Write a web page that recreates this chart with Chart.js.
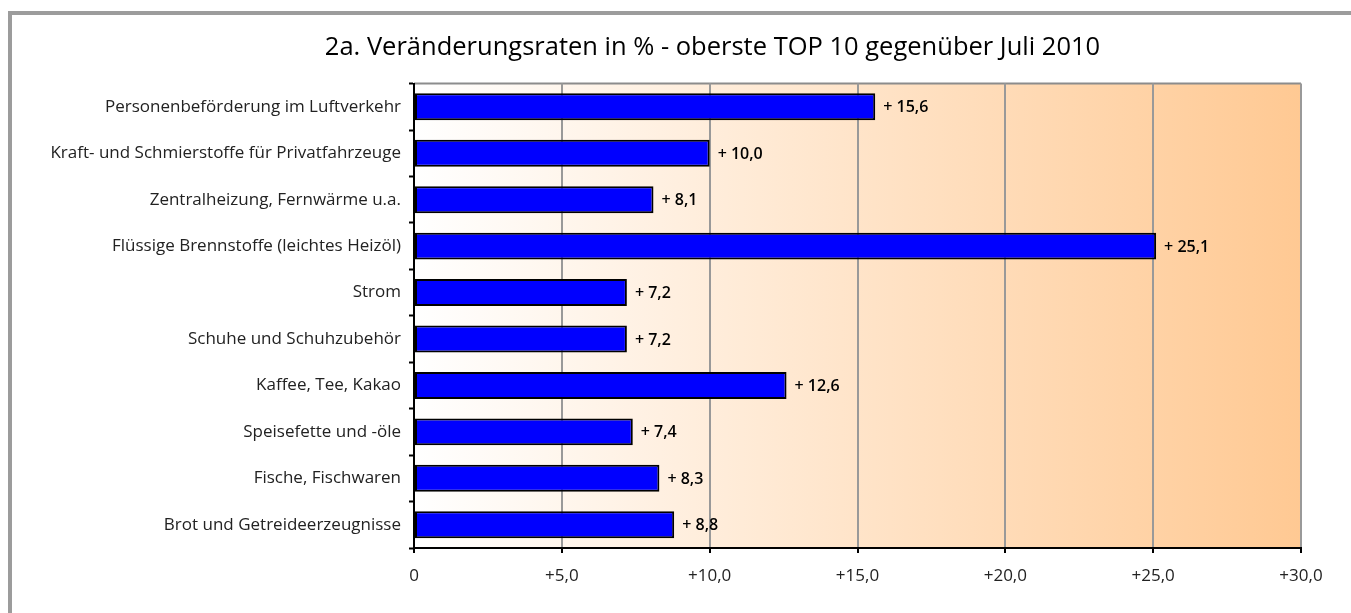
<!DOCTYPE html>
<html>
<head>
<meta charset="utf-8">
<script src="https://cdn.jsdelivr.net/npm/chart.js@4.4.0/dist/chart.umd.min.js"></script>
<style>
  html, body { margin: 0; padding: 0; background: #fff; overflow: hidden; }
  #frame { position: absolute; left: 8px; top: 11px; width: 1400px; height: 700px;
           border-top: 4px solid #9c9c9c; border-left: 4px solid #9c9c9c; }
  #wrap { position: absolute; left: 0; top: 0; width: 1425px; height: 613px; }
</style>
</head>
<body>
<div id="frame"></div>
<div id="wrap"><canvas id="chart"></canvas></div>
<script>
// ------------------- Data -------------------//
var categories = [
  'Personenbeförderung im Luftverkehr',
  'Kraft- und Schmierstoffe für Privatfahrzeuge',
  'Zentralheizung, Fernwärme u.a.',
  'Flüssige Brennstoffe (leichtes Heizöl)',
  'Strom',
  'Schuhe und Schuhzubehör',
  'Kaffee, Tee, Kakao',
  'Speisefette und -öle',
  'Fische, Fischwaren',
  'Brot und Getreideerzeugnisse'
];
var changes = [15.6, 10.0, 8.1, 25.1, 7.2, 7.2, 12.6, 7.4, 8.3, 8.8];
var xTicks = [0, 5, 10, 15, 20, 25, 30];

function fmt(v) {
  return v.toFixed(1).replace('.', ',');
}

// gradient background + top border of plot area
var plotBg = {
  id: 'plotBg',
  beforeDraw: function(chart) {
    var a = chart.chartArea, ctx = chart.ctx;
    var g = ctx.createLinearGradient(a.left, 0, a.right, 0);
    g.addColorStop(0, '#ffffff');
    g.addColorStop(1, '#ffc993');
    ctx.save();
    ctx.fillStyle = g;
    ctx.fillRect(a.left, a.top, a.right - a.left, a.bottom - a.top);
    ctx.strokeStyle = '#8c8c8c';
    ctx.lineWidth = 2;
    ctx.beginPath();
    ctx.moveTo(a.left, a.top);
    ctx.lineTo(a.right, a.top);
    ctx.stroke();
    ctx.restore();
  }
};

// value labels right of bars
var valueLabels = {
  id: 'valueLabels',
  afterDatasetsDraw: function(chart) {
    var ctx = chart.ctx;
    var meta = chart.getDatasetMeta(0);
    ctx.save();
    ctx.font = '600 16px "Open Sans"';
    ctx.fillStyle = '#000';
    ctx.textAlign = 'left';
    ctx.textBaseline = 'middle';
    meta.data.forEach(function(bar, i) {
      ctx.fillText('+ ' + fmt(changes[i]), bar.x + 8, bar.y + 1);
    });
    ctx.restore();
  }
};

var ctx = document.getElementById('chart');
var myChart = new Chart(ctx, {
  type: 'bar',
  data: {
    labels: categories,
    datasets: [{
      data: changes,
      backgroundColor: '#0000ff',
      borderColor: '#000000',
      borderWidth: 2,
      borderSkipped: false,
      barPercentage: 0.58,
      categoryPercentage: 1.0
    }]
  },
  options: {
    indexAxis: 'y',
    responsive: true,
    maintainAspectRatio: false,
    animation: false,
    layout: { padding: 0 },
    plugins: {
      legend: { display: false },
      tooltip: { enabled: false },
      title: {
        display: true,
        text: '2a. Veränderungsraten in % - oberste TOP 10 gegenüber Juli 2010',
        color: '#000',
        font: { family: 'Open Sans', size: 25.5, weight: 'normal' },
        padding: { top: 32, bottom: 21 }
      }
    },
    scales: {
      x: {
        min: 0,
        max: 30,
        afterBuildTicks: function(scale) {
          scale.ticks = xTicks.map(function(v) { return { value: v }; });
        },
        afterFit: function(scale) { scale.height = 65; },
        grid: {
          color: '#999999',
          lineWidth: 2,
          tickColor: '#000',
          tickWidth: 2,
          tickLength: 5
        },
        border: { color: '#000', width: 2 },
        ticks: {
          color: '#222',
          padding: 13,
          maxRotation: 0,
          font: { family: 'Open Sans', size: 17 },
          callback: function(v) { return v === 0 ? '0' : '+' + fmt(v); }
        }
      },
      y: {
        afterFit: function(scale) { scale.width = 414; },
        grid: {
          color: 'transparent',
          tickColor: '#000',
          tickWidth: 2,
          tickLength: 5
        },
        border: { color: '#000', width: 2 },
        ticks: {
          color: '#222',
          padding: 8,
          font: { family: 'Open Sans', size: 17 }
        }
      },
      // empty right-hand margin so the title sits where the original has it
      yPad: {
        type: 'category',
        position: 'right',
        afterFit: function(scale) { scale.width = 124; },
        grid: { display: false },
        border: { display: false },
        ticks: { display: false }
      }
    }
  },
  plugins: [plotBg, valueLabels]
});
</script>
</body>
</html>
